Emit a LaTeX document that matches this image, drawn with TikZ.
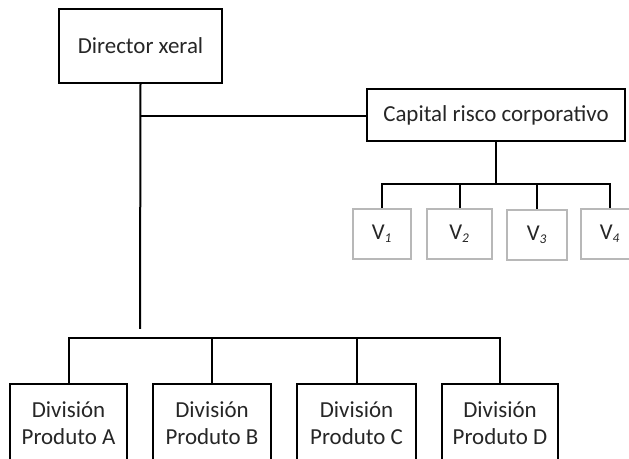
\documentclass[tikz,border=0pt]{standalone}
\usepackage{fontspec}
\setmainfont{Carlito}
\newcommand{\vsub}[1]{\textsubscript{\fontsize{10}{10}\selectfont\itshape #1}}
\begin{document}
\begin{tikzpicture}[x=0.75pt,y=-0.75pt,
  box/.style={draw=black,line width=1.5pt,inner sep=0pt,align=center,
    font=\fontsize{17.2}{20.5}\selectfont,text=black!85},
  vbox/.style={draw=black!28,line width=0.8pt,inner sep=0pt,
    minimum width=#1,minimum height=37.5pt,
    font=\fontsize{17}{20}\selectfont,text=black!85},
  link/.style={line width=1.5pt,line cap=rect}]
\useasboundingbox (0,0) rectangle (629,459);
\fill[white] (0,0) rectangle (629,459);

% top management
\node[box,minimum width=122pt,minimum height=55.5pt] (dir) at (140.5,46) {Director xeral};
\node[box,minimum width=193.5pt,minimum height=39pt] (cvc) at (496,115) {Capital risco corporativo};

% venture units
\node[vbox=43.5pt] (v1) at (382,234) {V\vsub{1}};
\node[vbox=48.75pt] (v2) at (459.5,234) {V\vsub{2}};
\node[vbox=45pt] (v3) at (537,235) {V\vsub{3}};
\node[vbox=43.5pt] (v4) at (610,234) {V\vsub{4}};

% product divisions
\node[box,minimum width=87.75pt,minimum height=58.5pt] (da) at (68.5,423) {División\\Produto A};
\node[box,minimum width=88.5pt,minimum height=58.5pt] (db) at (212,423) {División\\Produto B};
\node[box,minimum width=89.25pt,minimum height=58.5pt] (dc) at (356.5,423) {División\\Produto C};
\node[box,minimum width=87pt,minimum height=58.5pt] (dd) at (500,423) {División\\Produto D};

% bus coordinates
\coordinate (trunk) at (140,329);
\coordinate (side) at (140,116);
\coordinate (vbus) at (496,184);
\coordinate (dbus) at (140,338);

% director trunk and branch to the venture unit
\draw[line width=1.5pt] (dir.south) -- (trunk);
\draw[line width=1.5pt] (side) -- (side -| cvc.west);

% venture bus
\draw[line width=1.5pt] (cvc.south) -- (vbus);
\draw[link] (vbus -| v1) -- (vbus -| v4);
\foreach \v in {v1,v2,v3,v4}
  \draw[line width=1.5pt] (vbus -| \v) -- (\v.north);

% divisions bus
\draw[link] (dbus -| da) -- (dbus -| dd);
\foreach \d in {da,db,dc,dd}
  \draw[line width=1.5pt] (dbus -| \d) -- (\d.north);
\end{tikzpicture}
\end{document}
